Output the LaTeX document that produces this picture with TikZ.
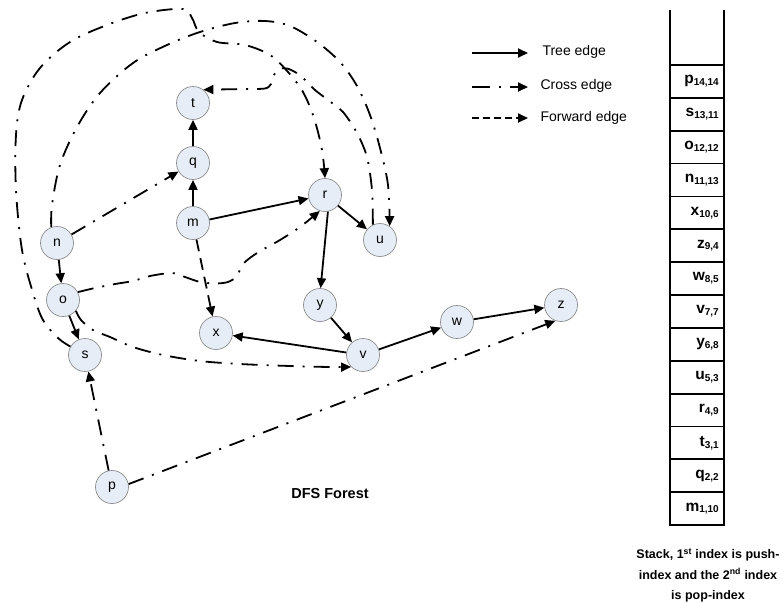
\documentclass[tikz,border=0pt]{standalone}
\usepackage{fontspec}
\setmainfont{Liberation Sans}
\usetikzlibrary{arrows.meta}
\definecolor{vfill}{RGB}{230,237,247}
\definecolor{vline}{RGB}{140,140,140}
\newcommand{\stklbl}[2]{\textbf{#1{\fontsize{10}{10}\selectfont\raisebox{-0.35ex}{#2}}}}
\begin{document}
\begin{tikzpicture}[x=1pt,y=-1pt,
  vtx/.style={circle,draw=vline,fill=vfill,line width=0.7pt,minimum size=33pt,
    inner sep=0pt,font=\fontsize{14}{14}\selectfont},
  edgetip/.style={-{Triangle[length=10pt,width=9pt]}},
  tree/.style={line width=1.8pt,edgetip},
  cross/.style={line width=1.8pt,dash pattern=on 16pt off 9pt on 2pt off 9pt,edgetip},
  fwd/.style={line width=1.8pt,dash pattern=on 12pt off 7pt,edgetip},
  legtext/.style={anchor=west,font=\fontsize{14}{14}\selectfont},
  stackline/.style={line width=1.8pt},
  stacktext/.style={anchor=east,inner sep=0pt,font=\fontsize{15.5}{15.5}\selectfont}
]
\useasboundingbox (0,0) rectangle (781,603);

% vertices of the DFS forest
\node[vtx] (t) at (193,103) {t};
\node[vtx] (q) at (193,163) {q};
\node[vtx] (m) at (193,223) {m};
\node[vtx] (r) at (325,195) {r};
\node[vtx] (u) at (380,240) {u};
\node[vtx] (n) at (57,243) {n};
\node[vtx] (o) at (63,300) {o};
\node[vtx] (s) at (85,355) {s};
\node[vtx] (x) at (216,333) {x};
\node[vtx] (y) at (320,305) {y};
\node[vtx] (v) at (363,355) {v};
\node[vtx] (w) at (457,322) {w};
\node[vtx] (z) at (561,305) {z};
\node[vtx] (p) at (112,487) {p};

% tree edges
\draw[tree] (m) -- (q);
\draw[tree] (q) -- (t);
\draw[tree] (m) -- (r);
\draw[tree] (r) -- (u);
\draw[tree] (r.-80) -- (y.88);
\draw[tree] (y) -- (v);
\draw[tree] (v) -- (x);
\draw[tree] (v) -- (w);
\draw[tree] (w) -- (z);
\draw[tree] (n) -- (o);
\draw[tree] (o) -- (s);

% forward edge
\draw[fwd] (m) -- (x);

% cross edges
\draw[cross] (n) -- (q);
\draw[cross] (p) -- (s);
\draw[cross] (p.10) -- (z.-110);
\draw[cross] plot[smooth,tension=0.55] coordinates {(s.150) (58,338) (43,320) (33,293)
  (22,250) (16,190) (16,135) (22,100) (40,68) (70,42) (107,25) (145,13) (183,9)
  (192,18) (199,32) (217,42) (245,45) (270,55) (288,72) (303,92) (314,118) (322,150) (r.north)};
\draw[cross] plot[smooth,tension=0.55] coordinates {(n.110) (52,205) (60,165) (77,127)
  (100,93) (133,63) (167,45) (200,32) (235,23) (265,21) (290,26) (317,42) (340,62)
  (357,86) (370,115) (380,148) (388,185) (u.55)};
\draw[cross] plot[smooth,tension=0.5] coordinates {(u.115) (372,190) (367,157) (357,133)
  (343,112) (328,100) (315,90) (303,78) (295,72) (287,68.5) (279,69) (274,75) (271,84)
  (265,88.5) (245,89)} -- (t.52);
\draw[cross] plot[smooth,tension=0.5] coordinates {(o.28) (95,288) (115,284) (133,281)
  (150,276) (172,273) (185,277) (200,282) (215,283.5) (228,282) (237,276) (243,264)
  (257,253) (280,240) (300,227) (r.-108)};
\draw[cross] plot[smooth,tension=0.55] coordinates {(o.-40) (81,320) (93,330) (110,337)
  (133,347) (163,355) (200,361) (240,364) (290,366) (330,367) (v.-135)};

\node[font=\fontsize{14.5}{14.5}\selectfont\bfseries] (forest) at (330,493) {DFS Forest};

% legend
\coordinate (la1) at (472,53);  \coordinate (la2) at (528,53);
\coordinate (lb1) at (472,87);  \coordinate (lb2) at (528,87);
\coordinate (lc1) at (472,118); \coordinate (lc2) at (528,118);
\draw[line width=1.8pt,edgetip] (la1) -- (la2);
\draw[line width=1.8pt,dash pattern=on 18pt off 9pt on 2pt off 9pt,edgetip] (lb1) -- (lb2);
\draw[line width=1.8pt,dash pattern=on 7pt off 4pt,edgetip] (lc1) -- (lc2);
\node[legtext] (lta) at (539,52) {Tree edge};
\node[legtext] (ltb) at (537,86) {Cross edge};
\node[legtext] (ltc) at (537,118) {Forward edge};

% stack with push/pop indices
\draw[stackline] (670,10) -- (670,525);
\draw[stackline] (724,10) -- (724,525);
\foreach \k in {0,...,14}
  \draw[stackline] (669.1,65+32.86*\k) -- (724.9,65+32.86*\k);
\foreach \lab/\idx [count=\k from 0] in {p/{14,14},s/{13,11},o/{12,12},n/{11,13},
    x/{10,6},z/{9,4},w/{8,5},v/{7,7},y/{6,8},u/{5,3},r/{4,9},t/{3,1},q/{2,2},m/{1,10}}
  \node[stacktext] (st\k) at (719,65+32.86*\k+16.43) {\stklbl{\lab}{\idx}};

\node[align=center,font=\fontsize{12.5}{20.5}\selectfont\bfseries] (caption) at (708,575.5)
  {Stack, 1\textsuperscript{st} index is push-\\index and the 2\textsuperscript{nd} index\\is pop-index};
\end{tikzpicture}
\end{document}
